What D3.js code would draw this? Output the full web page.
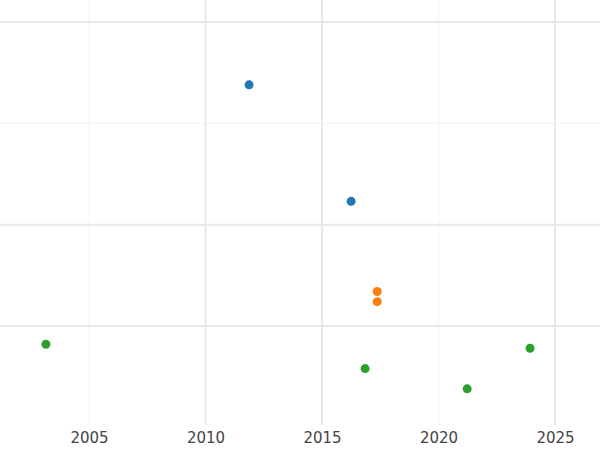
<!DOCTYPE html>
<html><head><meta charset="utf-8">
<script src="https://cdn.jsdelivr.net/npm/d3@7"></script>
<style>body{margin:0;background:#fff}svg{display:block}</style>
</head><body><svg id="c" width="600" height="450"></svg>
<script>
const seriesNames = ["A","B","C"];
const colors = ["#1f77b4","#ff7f0e","#2ca02c"];
const xA = [2011.87, 2016.25];
const yA = [2.38, 1.23];
const xB = [2017.37, 2017.37];
const yB = [0.34, 0.24];
const xC = [2003.15, 2016.85, 2021.23, 2023.93];
const yC = [-0.18, -0.42, -0.62, -0.22];
const xTicks = [2005, 2010, 2015, 2020, 2025];
const yTicks = [0, 1, 2, 3];

const svg = d3.select("#c");
const x = d3.scaleLinear().domain([2005, 2025]).range([89, 555]);
const y = d3.scaleLinear().domain([0, 3]).range([326, 22]);

const g = svg.append("g");
g.selectAll(".vx").data(xTicks).join("line")
  .attr("x1", d => x(d)).attr("x2", d => x(d)).attr("y1", 0).attr("y2", 425)
  .attr("stroke", d => (d===2010||d===2015||d===2025) ? "#e8e8e8" : "#f2f2f2")
  .attr("stroke-width", d => (d===2010||d===2015||d===2025) ? 2 : 1);
g.selectAll(".hy").data(yTicks).join("line")
  .attr("x1", 0).attr("x2", 600).attr("y1", d => y(d)).attr("y2", d => y(d))
  .attr("stroke", d => d===2 ? "#f2f2f2" : "#e8e8e8")
  .attr("stroke-width", d => d===2 ? 1 : 2);

const axis = d3.axisBottom(x).tickValues(xTicks).tickFormat(d3.format("d")).tickSize(0);
const ax = svg.append("g").attr("transform", "translate(0,432)").call(axis);
ax.select(".domain").remove();
ax.selectAll("text").attr("fill", "#444").attr("y", 0).attr("dy", "0.71em")
  .style("font-family", "DejaVu Sans").style("font-size", "15px");

const series = [[xA,yA],[xB,yB],[xC,yC]];
series.forEach(([xs, ys], i) => {
  svg.append("g").selectAll("circle").data(xs.map((v,j)=>[v, ys[j]])).join("circle")
    .attr("cx", d => x(d[0])).attr("cy", d => y(d[1])).attr("r", 4.5)
    .attr("fill", colors[i]).attr("data-series", seriesNames[i]);
});
</script></body></html>
